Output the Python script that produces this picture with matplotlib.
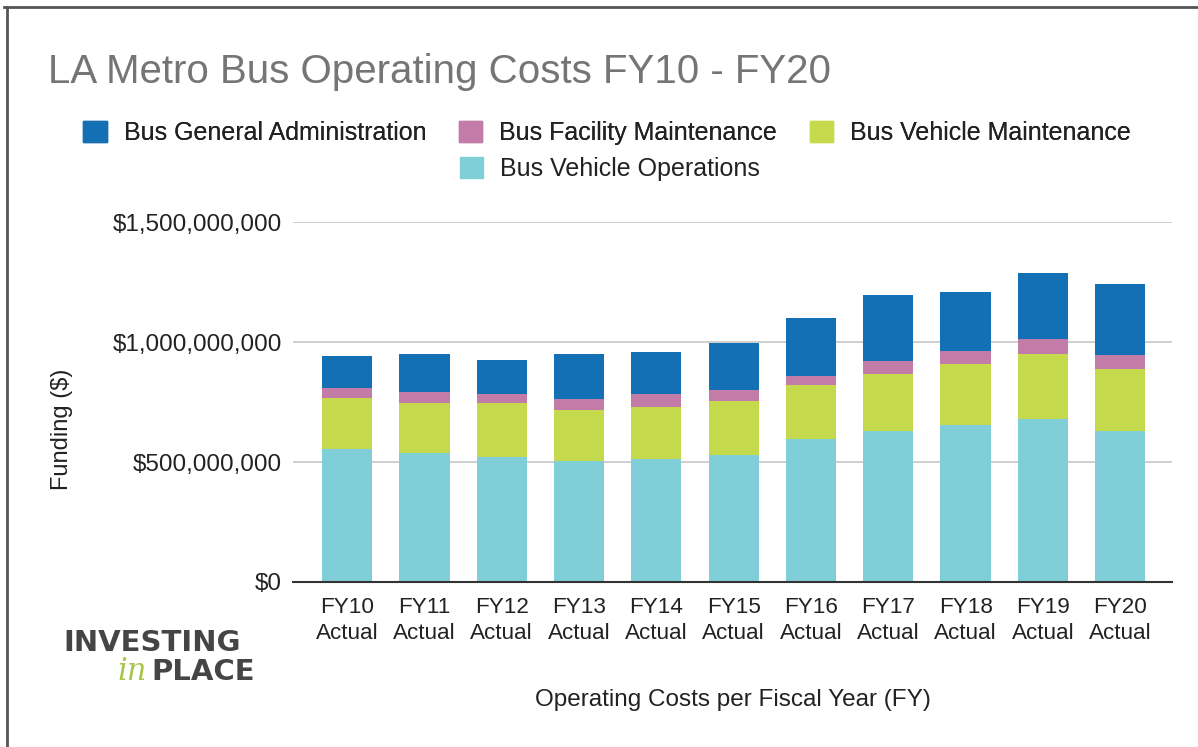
import matplotlib
matplotlib.use("Agg")
import matplotlib.pyplot as plt
from matplotlib.lines import Line2D
from matplotlib.patches import Patch
from matplotlib.ticker import FuncFormatter

categories = ["FY10\nActual", "FY11\nActual", "FY12\nActual", "FY13\nActual", "FY14\nActual",
              "FY15\nActual", "FY16\nActual", "FY17\nActual", "FY18\nActual", "FY19\nActual",
              "FY20\nActual"]
vehicle_operations = [553e6, 536e6, 519e6, 503e6, 511e6, 528e6, 594e6, 628e6, 653e6, 678e6, 628e6]
vehicle_maintenance = [215e6, 209e6, 225e6, 215e6, 217e6, 225e6, 225e6, 240e6, 257e6, 274e6, 258e6]
facility_maintenance = [42e6, 48e6, 40e6, 43e6, 57e6, 49e6, 40e6, 51e6, 51e6, 60e6, 58e6]
general_admin = [133e6, 158e6, 143e6, 190e6, 175e6, 192e6, 242e6, 275e6, 249e6, 274e6, 299e6]
yticks = [0, 500e6, 1000e6, 1500e6]

c_ops = "#80ced8"
c_vm = "#c4d94b"
c_fm = "#c37ba7"
c_ga = "#1470b5"

plt.rcParams['font.family'] = ['Liberation Sans', 'DejaVu Sans']

fig = plt.figure(figsize=(11.98, 7.47), dpi=100)
ax = fig.add_axes([293/1198, 1-582/747, (1172-293)/1198, (582-222)/747])

x = list(range(len(categories)))
w = 0.65
b1 = vehicle_operations
b2 = [a + b for a, b in zip(b1, vehicle_maintenance)]
b3 = [a + b for a, b in zip(b2, facility_maintenance)]
ax.bar(x, vehicle_operations, w, color=c_ops, zorder=3)
ax.bar(x, vehicle_maintenance, w, bottom=b1, color=c_vm, zorder=3)
ax.bar(x, facility_maintenance, w, bottom=b2, color=c_fm, zorder=3)
ax.bar(x, general_admin, w, bottom=b3, color=c_ga, zorder=3)

ax.set_xlim(-0.70, 10.67)
ax.set_ylim(0, 1.5e9)
ax.set_yticks(yticks)
ax.yaxis.set_major_formatter(FuncFormatter(lambda v, p: "${:,.0f}".format(v)))
ax.set_xticks(x)
ax.set_xticklabels(categories, fontsize=16.2, color="#222222", linespacing=1.32)
ax.tick_params(axis='y', length=0, pad=8, labelsize=17.5, labelcolor="#222222")
ax.tick_params(axis='x', length=0, pad=11)
ax.grid(axis='y', color="#cccccc", linewidth=1.3, zorder=0)
for s in ['top', 'right', 'left']:
    ax.spines[s].set_visible(False)
ax.spines['bottom'].set_color("#333333")
ax.spines['bottom'].set_linewidth(1.5)
ax.spines['bottom'].set_zorder(4)

ax.set_xlabel("Operating Costs per Fiscal Year (FY)", fontsize=17.5, color="#222222")
ax.xaxis.set_label_coords((732.5-293)/(1172-293), -(700-582)/(582-222), transform=ax.transAxes)
ax.xaxis.label.set_va('center')
fig.text(62/1198, 1-429/747, "Funding ($)", rotation=90, ha='center', va='center',
         fontsize=17, color="#222222")

fig.text(48/1198, 1-72/747, "LA Metro Bus Operating Costs FY10 - FY20", fontsize=29,
         color="#757575", ha='left', va='center')

handles = [Patch(color=c_ga, label="Bus General Administration"),
           Patch(color=c_fm, label="Bus Facility Maintenance"),
           Patch(color=c_vm, label="Bus Vehicle Maintenance")]
leg1 = fig.legend(handles=handles, loc='center', bbox_to_anchor=(607/1198, 1-133/747), ncol=3,
                  frameon=False, fontsize=18, handlelength=0.95, handleheight=0.95,
                  columnspacing=1.3, handletextpad=0.68, labelcolor="#222222",
                  borderpad=0, borderaxespad=0)
leg2 = fig.legend(handles=[Patch(color=c_ops, label="Bus Vehicle Operations")], loc='center',
                  bbox_to_anchor=(610/1198, 1-169/747), frameon=False, fontsize=18,
                  handlelength=0.95, handleheight=0.95, handletextpad=0.68, labelcolor="#222222",
                  borderpad=0, borderaxespad=0)
fig.add_artist(leg1)

# logo
fig.text(63/1198, 1-643/747, "INVESTING", fontsize=21, fontweight='bold',
         family=['DejaVu Sans'], color="#454545", ha='left', va='center')
fig.text(147/1198, 1-672/747, "in", fontsize=22, style='italic',
         family=['DejaVu Serif'], color="#a8c64a", ha='right', va='center')
fig.text(151/1198, 1-672/747, "PLACE", fontsize=21, fontweight='bold',
         family=['DejaVu Sans'], color="#454545", ha='left', va='center')

# outer frame
fig.add_artist(Line2D([4/1198, 1], [1-7/747, 1-7/747], color="#555555", linewidth=2))
fig.add_artist(Line2D([7/1198, 7/1198], [0, 1-7/747], color="#555555", linewidth=2))

fig.savefig("out.png", dpi=100, facecolor="white")
